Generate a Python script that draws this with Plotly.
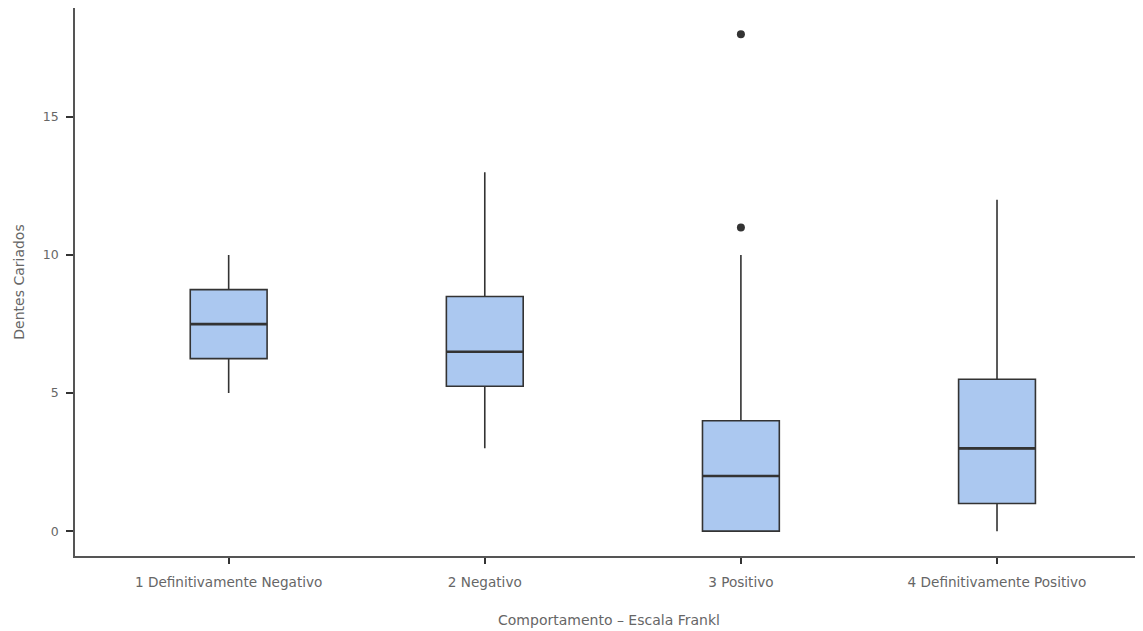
import plotly.graph_objects as go

categories = ["1 Definitivamente Negativo", "2 Negativo", "3 Positivo", "4 Definitivamente Positivo"]
lower_whisker = [5, 3, 0, 0]
q1 = [6.25, 5.25, 0, 1]
median = [7.5, 6.5, 2, 3]
q3 = [8.75, 8.5, 4, 5.5]
upper_whisker = [10, 13, 10, 12]
outlier_cat = ["3 Positivo", "3 Positivo"]
outlier_val = [11, 18]
y_ticks = [0, 5, 10, 15]

font_fam = "'DejaVu Sans', sans-serif"
txt_col = "#666666"
fsize = 12.5

fig = go.Figure()
fig.add_trace(go.Box(
    x=categories, q1=q1, median=median, q3=q3,
    lowerfence=lower_whisker, upperfence=upper_whisker,
    fillcolor="#abc8f0", line=dict(color="#333333", width=1.6),
    whiskerwidth=0, boxpoints=False, showlegend=False, hoverinfo="skip",
    width=0.3,
))
# thicker median bar (flat box at the median)
fig.add_trace(go.Box(
    x=categories, q1=median, median=median, q3=median,
    lowerfence=median, upperfence=median,
    fillcolor="rgba(0,0,0,0)", line=dict(color="#333333", width=2.6),
    whiskerwidth=0, boxpoints=False, showlegend=False, hoverinfo="skip",
    width=0.3,
))
fig.add_trace(go.Scatter(
    x=outlier_cat, y=outlier_val, mode="markers",
    marker=dict(color="#333333", size=8), showlegend=False,
))

fig.update_layout(
    width=1143, height=631,
    margin=dict(l=67, r=8, t=0, b=83),
    plot_bgcolor="white", paper_bgcolor="white",
    boxmode="overlay",
    font=dict(family=font_fam, color=txt_col, size=fsize),
)
fig.update_xaxes(
    type="category", categoryorder="array", categoryarray=categories,
    range=[-0.6, 3.57],
    showline=True, linecolor="#555555", linewidth=1.6,
    ticks="outside", ticklen=6, tickcolor="#333333", tickwidth=1.5,
    ticklabelstandoff=7,
    showgrid=False, zeroline=False, automargin=False,
    tickfont=dict(size=13.6, color=txt_col, family=font_fam),
    title=dict(text="Comportamento – Escala Frankl", standoff=26,
               font=dict(size=14, color=txt_col, family=font_fam)),
)
fig.update_yaxes(
    range=[-0.9, 18.95], tickvals=y_ticks,
    showline=True, linecolor="#555555", linewidth=1.6,
    ticks="outside", ticklen=7, tickcolor="#333333", tickwidth=1.5,
    ticklabelstandoff=5,
    showgrid=False, zeroline=False, automargin=False,
    tickfont=dict(size=fsize, color=txt_col, family=font_fam),
    title=dict(text="Dentes Cariados", standoff=15,
               font=dict(size=14, color=txt_col, family=font_fam)),
)

fig.write_html("out.html")
